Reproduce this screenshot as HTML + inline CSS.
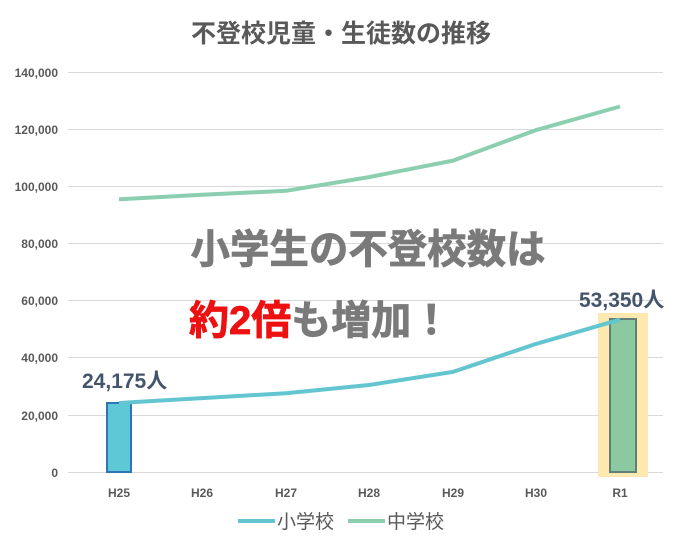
<!DOCTYPE html>
<html><head><meta charset="utf-8"><style>body{margin:0;background:#fff}svg{display:block}</style></head><body>
<svg width="682" height="548" xmlns="http://www.w3.org/2000/svg" font-family="Liberation Sans, Noto Sans CJK JP, sans-serif">
<text x="341" y="42" text-anchor="middle" font-size="25" font-weight="bold" fill="#595959">不登校児童・生徒数の推移</text>
<g stroke="#d9d9d9" stroke-width="1">
<line x1="68" x2="663" y1="72.5" y2="72.5"/><line x1="68" x2="663" y1="129.5" y2="129.5"/><line x1="68" x2="663" y1="186.5" y2="186.5"/><line x1="68" x2="663" y1="243.5" y2="243.5"/><line x1="68" x2="663" y1="300.5" y2="300.5"/><line x1="68" x2="663" y1="357.5" y2="357.5"/><line x1="68" x2="663" y1="415.5" y2="415.5"/><line x1="68" x2="663" y1="472.5" y2="472.5"/>
</g>
<g font-size="12" font-weight="bold" fill="#595959" text-anchor="end">
<text x="58" y="77">140,000</text><text x="58" y="134">120,000</text><text x="58" y="191">100,000</text><text x="58" y="248">80,000</text><text x="58" y="305">60,000</text><text x="58" y="362">40,000</text><text x="58" y="420">20,000</text><text x="58" y="477">0</text>
</g>
<g font-size="12" font-weight="bold" fill="#595959" text-anchor="middle">
<text x="119" y="497">H25</text><text x="202" y="497">H26</text><text x="286" y="497">H27</text><text x="369" y="497">H28</text><text x="453" y="497">H29</text><text x="536" y="497">H30</text><text x="620" y="497">R1</text>
</g>
<rect x="598" y="313" width="50" height="164" fill="#fde9b0"/>
<rect x="107" y="403" width="24" height="69" fill="#5fc8d6" stroke="#2e75b6" stroke-width="2"/>
<rect x="610" y="319" width="26" height="153" fill="#8cc8a0" stroke="#5f7f77" stroke-width="2"/>
<polyline fill="none" stroke="#8ccfb0" stroke-width="4" stroke-linejoin="round" points="119,199.3 202,194.8 286,190.8 369,177.1 453,160.6 536,130.1 620,106.5"/>
<polyline fill="none" stroke="#62c5cf" stroke-width="4" stroke-linejoin="round" points="119,403 202,398.1 286,393.2 369,385 453,371.9 536,343.9 620,319.6"/>
<text x="82" y="388" font-size="21" font-weight="bold" fill="#44546a">24,175人</text>
<text x="579" y="307" font-size="21" font-weight="bold" fill="#44546a">53,350人</text>
<text x="368" y="263" text-anchor="middle" font-size="40" font-weight="bold" fill="#7a7a7a" stroke="#7a7a7a" stroke-width="0.8" textLength="355" lengthAdjust="spacingAndGlyphs">小学生の不登校数は</text>
<text x="189" y="334" font-size="40" font-weight="bold" fill="#7a7a7a" stroke="#7a7a7a" stroke-width="0.8"><tspan fill="#ee1111" stroke="#ee1111">約2倍</tspan>も増加！</text>
<line x1="238" x2="275" y1="521" y2="521" stroke="#62c5cf" stroke-width="4"/>
<text x="277" y="528" font-size="19" fill="#595959">小学校</text>
<line x1="348" x2="385" y1="521" y2="521" stroke="#8ccfb0" stroke-width="4"/>
<text x="387" y="528" font-size="19" fill="#595959">中学校</text>
</svg>
</body></html>
